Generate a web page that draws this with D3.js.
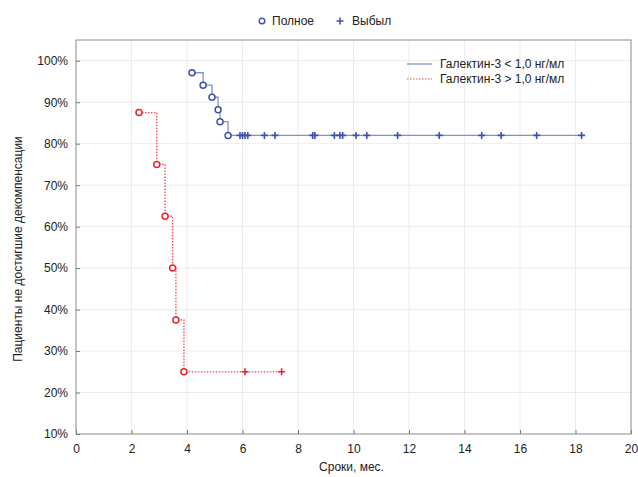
<!DOCTYPE html>
<html>
<head>
<meta charset="utf-8">
<script src="https://cdn.jsdelivr.net/npm/d3@7"></script>
<style>
  body { margin: 0; background: #fff; }
  text { font-family: "Liberation Sans", Arial, sans-serif; fill: #222; }
</style>
</head>
<body>
<svg id="canvas" width="638" height="477"></svg>
<script>
// events (Полное) and censored (Выбыл), months / percent
let lowEventTimes = [4.18, 4.58, 4.9, 5.12, 5.19, 5.48]
let lowEventSurv = [97.1, 94.1, 91.2, 88.2, 85.3, 82.0]
let lowCensTimes = [5.91, 6.0, 6.09, 6.19, 6.79, 7.17, 8.53, 8.61, 9.31, 9.51, 9.61, 10.09, 10.48, 11.59, 13.09, 14.62, 15.32, 16.6, 18.22]
let lowEnd = 18.3

let highEventTimes = [2.27, 2.91, 3.21, 3.48, 3.6, 3.89]
let highEventSurv = [87.5, 75, 62.5, 50, 37.5, 25]
let highCensTimes = [6.09, 7.41]
let highEnd = 7.41

let xTicks = [0, 2, 4, 6, 8, 10, 12, 14, 16, 18, 20]
let yTicks = [10, 20, 30, 40, 50, 60, 70, 80, 90, 100]

let seriesNames = ['Галектин-3 < 1,0 нг/мл', 'Галектин-3 > 1,0 нг/мл']
let markerNames = ['Полное', 'Выбыл']

let blueLine = '#8291cc'
let blueMark = '#3f52a8'
let redLine = '#f04848'
let redMark = '#e8262a'

let canvas = d3.select('#canvas')
let plotLeft = 76, plotRight = 631, plotTop = 40, plotBottom = 434

let x = d3.scaleLinear().domain([0, 20]).range([plotLeft, plotRight])
let y = d3.scaleLinear().domain([10, 105]).range([plotBottom, plotTop])

// grid
canvas.append('g').selectAll('line').data(xTicks.slice(1, -1)).enter().append('line')
  .attr('x1', d => x(d)).attr('x2', d => x(d)).attr('y1', plotTop).attr('y2', plotBottom)
  .attr('stroke', '#ececec').attr('stroke-width', 1)
canvas.append('g').selectAll('line').data(yTicks.slice(1)).enter().append('line')
  .attr('x1', plotLeft).attr('x2', plotRight).attr('y1', d => y(d)).attr('y2', d => y(d))
  .attr('stroke', '#ececec').attr('stroke-width', 1)

// axes
let xAxis = canvas.append('g').attr('transform', `translate(0,${plotBottom})`)
  .call(d3.axisBottom(x).tickValues(xTicks).tickSizeInner(-4).tickSizeOuter(0).tickPadding(10))
let yAxis = canvas.append('g').attr('transform', `translate(${plotLeft},0)`)
  .call(d3.axisLeft(y).tickValues(yTicks).tickFormat(d => d + '%').tickSizeInner(-4).tickSizeOuter(0).tickPadding(8))
;[xAxis, yAxis].forEach(a => {
  a.selectAll('text').style('font-size', '12px').attr('fill', '#222')
  a.selectAll('line').attr('stroke', '#777')
  a.select('.domain').remove()
})

canvas.append('rect').attr('x', plotLeft).attr('y', plotTop)
  .attr('width', plotRight - plotLeft).attr('height', plotBottom - plotTop)
  .attr('fill', 'none').attr('stroke', '#8a8a8a').attr('stroke-width', 1)

// step curves
let stepPoints = (times, surv, end) => {
  let pts = times.map((t, i) => [t, surv[i]])
  pts.push([end, surv[surv.length - 1]])
  return pts
}
let line = d3.line().x(d => x(d[0])).y(d => y(d[1])).curve(d3.curveStepAfter)

canvas.append('path').datum(stepPoints(lowEventTimes, lowEventSurv, lowEnd))
  .attr('d', line).attr('fill', 'none').attr('stroke', blueLine).attr('stroke-width', 1.3)
canvas.append('path').datum(stepPoints(highEventTimes, highEventSurv, highEnd))
  .attr('d', line).attr('fill', 'none').attr('stroke', redLine).attr('stroke-width', 1.3)
  .attr('stroke-dasharray', '1.5,1.5')

let drawCircles = (times, surv, color) => {
  canvas.append('g').selectAll('circle').data(times).enter().append('circle')
    .attr('cx', d => x(d)).attr('cy', (d, i) => y(surv[i])).attr('r', 3)
    .attr('fill', '#fff').attr('stroke', color).attr('stroke-width', 1.5)
}
let plusPath = (cx, cy, s) => `M${cx - s},${cy}H${cx + s}M${cx},${cy - s}V${cy + s}`
let drawPluses = (times, level, color) => {
  canvas.append('g').selectAll('path').data(times).enter().append('path')
    .attr('d', d => plusPath(x(d), y(level), 3.5))
    .attr('stroke', color).attr('stroke-width', 1.6)
}
drawCircles(lowEventTimes, lowEventSurv, blueMark)
drawPluses(lowCensTimes, lowEventSurv[lowEventSurv.length - 1], blueMark)
drawCircles(highEventTimes, highEventSurv, redMark)
drawPluses(highCensTimes, highEventSurv[highEventSurv.length - 1], redMark)

// top legend
canvas.append('circle').attr('cx', 262).attr('cy', 21).attr('r', 2.8)
  .attr('fill', '#fff').attr('stroke', blueMark).attr('stroke-width', 1.4)
canvas.append('text').attr('x', 272).attr('y', 25).style('font-size', '12px').text(markerNames[0])
canvas.append('path').attr('d', plusPath(340, 21, 3.5)).attr('stroke', blueMark).attr('stroke-width', 1.5)
canvas.append('text').attr('x', 352).attr('y', 25).style('font-size', '12px').text(markerNames[1])

// series legend
canvas.append('line').attr('x1', 407).attr('x2', 432).attr('y1', 64).attr('y2', 64)
  .attr('stroke', blueLine).attr('stroke-width', 1.3)
canvas.append('text').attr('x', 440).attr('y', 68).style('font-size', '12px').text(seriesNames[0])
canvas.append('line').attr('x1', 407).attr('x2', 432).attr('y1', 79).attr('y2', 79)
  .attr('stroke', redLine).attr('stroke-width', 1).attr('stroke-dasharray', '1.5,1.5')
canvas.append('text').attr('x', 440).attr('y', 83).style('font-size', '12px').text(seriesNames[1])

// axis titles
canvas.append('text').attr('x', (plotLeft + plotRight) / 2 - 2).attr('y', 471).attr('text-anchor', 'middle')
  .style('font-size', '12px').text('Сроки, мес.')
canvas.append('text').attr('transform', `translate(22,${(plotTop + plotBottom) / 2 + 12}) rotate(-90)`)
  .attr('text-anchor', 'middle').style('font-size', '12px').text('Пациенты не достигшие декомпенсации')
</script>
</body>
</html>
